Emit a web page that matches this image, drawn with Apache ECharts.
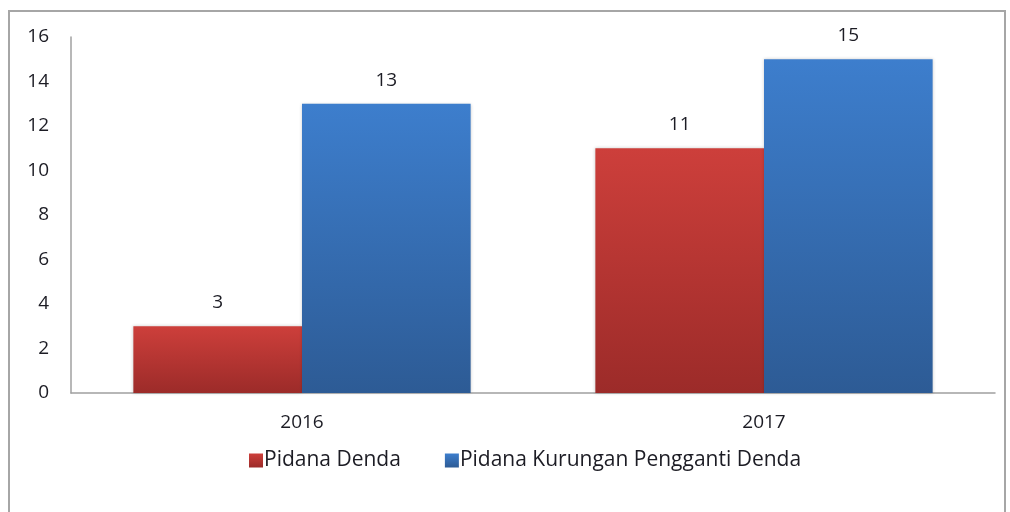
<!DOCTYPE html>
<html>
<head>
<meta charset="utf-8">
<script src="https://cdn.jsdelivr.net/npm/echarts@6/dist/echarts.min.js"></script>
<style>
  html, body { margin: 0; padding: 0; background: #fff; }
  #chart { width: 1010px; height: 512px; }
</style>
</head>
<body>
<div id="chart"></div>
<script>
// data
const years = ['2016', '2017'];
const dendaValues = [3, 11];
const kurunganValues = [13, 15];
const seriesNames = ['Pidana Denda', 'Pidana Kurungan Pengganti Denda'];

const font = 'Open Sans';
const textColor = '#1c1c24';

function grad(top, bottom) {
  return new echarts.graphic.LinearGradient(0, 0, 0, 1, [
    { offset: 0, color: top },
    { offset: 1, color: bottom }
  ]);
}

const chart = echarts.init(document.getElementById('chart'));
chart.setOption({
  animation: false,
  textStyle: { fontFamily: font },
  graphic: [{
    type: 'rect',
    shape: { x: 9, y: 11, width: 996, height: 520 },
    style: { fill: 'none', stroke: '#a6a6a6', lineWidth: 2 },
    silent: true
  }],
  grid: { left: 71, right: 15, top: 37, bottom: 119 },
  legend: {
    bottom: 36,
    left: 244,
    itemWidth: 14,
    itemHeight: 14,
    itemGap: 44,
    icon: 'rect',
    textStyle: { fontSize: 21, color: textColor, fontFamily: font, padding: [0, 0, 0, -4] },
    data: seriesNames
  },
  xAxis: {
    type: 'category',
    data: years,
    axisLine: { lineStyle: { color: '#a0a0a0', width: 1.5 } },
    axisTick: { show: false },
    axisLabel: { fontSize: 19, color: textColor, margin: 20 }
  },
  yAxis: {
    type: 'value',
    min: 0,
    max: 16,
    interval: 2,
    splitLine: { show: false },
    axisLine: { show: true, lineStyle: { color: '#a0a0a0', width: 1.5 } },
    axisTick: { show: false },
    axisLabel: { fontSize: 19, color: textColor, margin: 22 }
  },
  series: [
    {
      name: seriesNames[0],
      type: 'bar',
      data: dendaValues,
      barGap: '0%',
      barCategoryGap: '27%',
      itemStyle: {
        color: grad('#cd3f3b', '#9c2b29'),
        shadowColor: 'rgba(0,0,0,0.2)',
        shadowBlur: 3
      },
      label: { show: true, position: 'top', distance: 14, fontSize: 19, color: textColor }
    },
    {
      name: seriesNames[1],
      type: 'bar',
      data: kurunganValues,
      itemStyle: {
        color: grad('#3d7ecd', '#2d5b95'),
        shadowColor: 'rgba(0,0,0,0.2)',
        shadowBlur: 3
      },
      label: { show: true, position: 'top', distance: 14, fontSize: 19, color: textColor }
    }
  ]
});
</script>
</body>
</html>
